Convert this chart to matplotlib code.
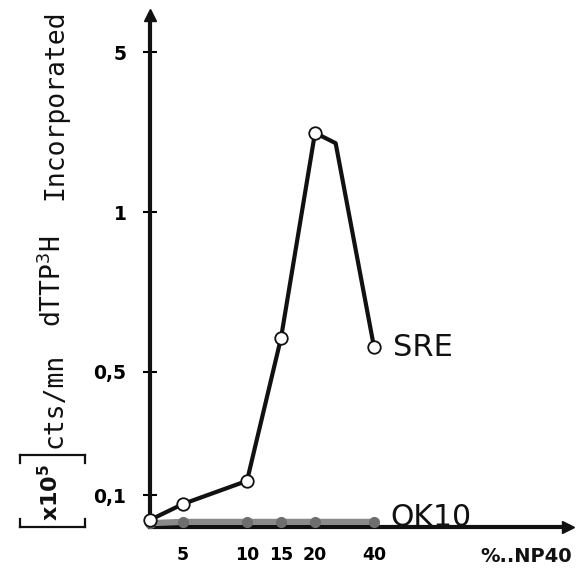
import numpy as np
import matplotlib
matplotlib.use('Agg')
import matplotlib.pyplot as plt
from matplotlib.lines import Line2D

plt.rcParams['mathtext.fontset'] = 'custom'
plt.rcParams['mathtext.rm'] = 'DejaVu Sans Mono'
plt.rcParams['mathtext.it'] = 'DejaVu Sans Mono'
plt.rcParams['mathtext.bf'] = 'DejaVu Sans:bold'

# ---- data ----
np40_pct = [0, 5, 10, 15, 20, 27, 40]
sre_vals = [0.022, 0.072, 0.146, 0.606, 2.98, 2.72, 0.578]
sre_marked = [0, 1, 2, 3, 4, 6]
ok10_pct = [0, 5, 10, 15, 20, 40]
ok10_vals = [0.012, 0.016, 0.016, 0.016, 0.016, 0.016]
x_ticks = [5, 10, 15, 20, 40]
x_ticklabels = ['5', '10', '15', '20', '40']
y_ticks = [0.1, 0.5, 1, 5]
y_ticklabels = ['0,1', '0,5', '1', '5']

# ---- hand-drawn, non-uniform axis scales (value -> relative pixel) ----
x_nodes = [0, 5, 10, 15, 20, 40]
x_pix = [0, 33, 97, 131, 165, 224]
y_nodes = [0, 0.1, 0.5, 1, 5]
y_pix = [0, 32, 155, 315, 475]


def piecewise(nodes, pos):
    nodes = np.asarray(nodes, float)
    pos = np.asarray(pos, float)
    lo = (pos[1] - pos[0]) / (nodes[1] - nodes[0])
    hi = (pos[-1] - pos[-2]) / (nodes[-1] - nodes[-2])

    def fwd(v):
        v = np.asarray(v, float)
        out = np.interp(v, nodes, pos)
        out = np.where(v < nodes[0], pos[0] + (v - nodes[0]) * lo, out)
        out = np.where(v > nodes[-1], pos[-1] + (v - nodes[-1]) * hi, out)
        return out

    def inv(p):
        p = np.asarray(p, float)
        out = np.interp(p, pos, nodes)
        out = np.where(p < pos[0], nodes[0] + (p - pos[0]) / lo, out)
        out = np.where(p > pos[-1], nodes[-1] + (p - pos[-1]) / hi, out)
        return out
    return fwd, inv


fx, ix = piecewise(x_nodes, x_pix)
fy, iy = piecewise(y_nodes, y_pix)

W, H = 578, 569
AX_W, AX_H = 418, 512
fig = plt.figure(figsize=(W / 100, H / 100), dpi=100)
ax = fig.add_axes([150 / W, (H - 527) / H, AX_W / W, AX_H / H])
ax.set_xscale('function', functions=(fx, ix))
ax.set_yscale('function', functions=(fy, iy))
ax.set_xlim(0, float(ix(AX_W)))
ax.set_ylim(0, float(iy(AX_H)))

for s in ['top', 'right']:
    ax.spines[s].set_visible(False)
for s in ['left', 'bottom']:
    ax.spines[s].set_linewidth(3)
    ax.spines[s].set_color('#111111')

ax.plot(1, 0, '>', color='#111111', ms=9, transform=ax.get_yaxis_transform(), clip_on=False)
ax.plot(0, 1, '^', color='#111111', ms=9, transform=ax.get_xaxis_transform(), clip_on=False)

ax.plot(ok10_pct, ok10_vals, '-o', color='#8a8a8a', lw=4.5, ms=7,
        mfc='#6e6e6e', mec='#6e6e6e', clip_on=False, zorder=3)
ax.plot(np40_pct, sre_vals, '-', color='#111111', lw=3, clip_on=False, zorder=4)
ax.plot([np40_pct[i] for i in sre_marked], [sre_vals[i] for i in sre_marked], 'o',
        ms=9, mfc='white', mec='#111111', mew=1.3, clip_on=False, zorder=5)

ax.set_xticks(x_ticks)
ax.set_xticklabels(x_ticklabels)
ax.set_yticks(y_ticks)
ax.set_yticklabels(y_ticklabels)
ax.minorticks_off()
ax.tick_params(axis='x', length=0, pad=14, labelsize=12.5)
ax.tick_params(axis='y', direction='inout', length=10, width=1.5, pad=12, labelsize=13.5)
for lab in ax.get_xticklabels() + ax.get_yticklabels():
    lab.set_fontweight('bold')

fig.text(393 / W, 1 - 347 / H, 'SRE', fontsize=22, ha='left', va='center', color='#111111')
fig.text(390 / W, 1 - 517 / H, 'OK10', fontsize=21.5, ha='left', va='center', color='#111111')
fig.text(572 / W, 1 - 556 / H, '%..NP40', fontsize=14, fontweight='bold',
         ha='right', va='center', color='#111111')

# y-axis title, in pieces along the left edge
fig.text(50 / W, 1 - 492 / H, r'x10$^{\mathbf{5}}$', fontsize=16, fontweight='bold',
         rotation=90, ha='center', va='center', color='#111111')
# brackets around the multiplier
for yb, arm in [(527, -8), (455, 8)]:
    fig.add_artist(Line2D([20 / W, 85 / W], [1 - yb / H, 1 - yb / H], color='#111111', lw=1.6))
    for xb in (20, 85):
        fig.add_artist(Line2D([xb / W, xb / W], [1 - yb / H, 1 - (yb + arm) / H],
                              color='#111111', lw=1.6))
mono = 'DejaVu Sans Mono'
fig.text(55 / W, 1 - 400 / H, 'cts/mn', family=mono, fontsize=19,
         rotation=90, ha='center', va='center', color='#111111')
fig.text(53 / W, 1 - 281 / H, r'dTTP$^{3}$H', family=mono, fontsize=19,
         rotation=90, ha='center', va='center', color='#111111')
fig.text(55 / W, 1 - 105 / H, 'Incorporated', family=mono, fontsize=19,
         rotation=90, ha='center', va='center', color='#111111')

fig.savefig('out.png', dpi=100)
